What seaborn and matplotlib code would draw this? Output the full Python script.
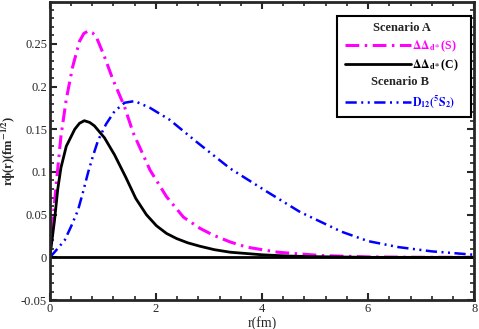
import numpy as np
import pandas as pd
import matplotlib
matplotlib.use("Agg")
import matplotlib.pyplot as plt
import seaborn as sns
from matplotlib.lines import Line2D
from matplotlib.patches import Rectangle
from matplotlib.ticker import MultipleLocator, FuncFormatter

# --- data ---
r_s = [0, 0.025, 0.06, 0.12, 0.21, 0.31, 0.43, 0.56, 0.64, 0.72, 0.80, 0.87, 1.03, 1.19, 1.26, 1.41,
       1.57, 1.89, 2.20, 2.52, 2.83, 3.08, 3.40, 3.71, 4.00, 4.30, 4.70, 5.15, 6.0, 7.0, 8.0]
phi_s = [0, 0.028, 0.045, 0.085, 0.142, 0.185, 0.223, 0.253, 0.262, 0.265, 0.263, 0.259, 0.235, 0.208, 0.198, 0.176,
         0.146, 0.102, 0.071, 0.047, 0.034, 0.026, 0.018, 0.012, 0.009, 0.006, 0.004, 0.002, 0.0005, 0.0, 0.0]

r_c = [0, 0.025, 0.088, 0.15, 0.21, 0.31, 0.47, 0.56, 0.65, 0.75, 0.84, 1.03, 1.22, 1.43, 1.62, 1.82,
       2.01, 2.20, 2.39, 2.60, 2.83, 3.10, 3.40, 4.0, 4.5, 5.0, 6.0, 8.0]
phi_c = [0, 0.012, 0.043, 0.080, 0.105, 0.130, 0.150, 0.157, 0.160, 0.158, 0.154, 0.140, 0.120, 0.094, 0.069, 0.050,
         0.037, 0.028, 0.022, 0.017, 0.013, 0.009, 0.006, 0.003, 0.0015, 0.0008, 0.0, 0.0]

r_d = [0, 0.088, 0.28, 0.40, 0.53, 0.62, 0.72, 0.81, 0.91, 1.06, 1.22, 1.41, 1.60, 1.89, 2.26, 2.77,
       3.40, 4.09, 4.72, 5.50, 6.0, 6.57, 7.2, 8.0]
phi_d = [0, 0.006, 0.020, 0.036, 0.055, 0.075, 0.099, 0.118, 0.137, 0.156, 0.171, 0.181, 0.183, 0.175, 0.161, 0.135,
         0.104, 0.077, 0.053, 0.030, 0.019, 0.012, 0.007, 0.003]

lab_s = r'$\mathbf{\Delta\Delta_{d*}}$(S)'
lab_c = r'$\mathbf{\Delta\Delta_{d*}}$(C)'
lab_d = r'$\mathbf{D_{12}(^{5}S_{2})}$'

sns.set_style("ticks")
plt.rcParams['font.family'] = ['Liberation Serif', 'DejaVu Serif']
plt.rcParams['mathtext.fontset'] = 'stix'

fig = plt.figure(figsize=(4.79, 3.29), dpi=100)
ax = fig.add_axes([0.104, 0.088, 0.886, 0.906])

ls_s = (0, (4.5, 1.8, 0.8, 1.8))
ls_d = (0, (4.5, 1.8, 0.8, 1.8, 0.8, 1.8))

sns.lineplot(x=r_s, y=phi_s, ax=ax, color='magenta', lw=2.2, linestyle=ls_s)
sns.lineplot(x=r_c, y=phi_c, ax=ax, color='black', lw=2.0)
sns.lineplot(x=r_d, y=phi_d, ax=ax, color='blue', lw=1.8, linestyle=ls_d)
ax.axhline(0, color='black', lw=2.0)

ax.set_xlim(0, 8)
ax.set_ylim(-0.05, 0.299)
ax.xaxis.set_major_locator(MultipleLocator(2))
ax.xaxis.set_minor_locator(MultipleLocator(0.4))
ax.yaxis.set_major_locator(MultipleLocator(0.05))
ax.yaxis.set_minor_locator(MultipleLocator(0.01))
ax.yaxis.set_major_formatter(FuncFormatter(lambda v, p: '%g' % round(v, 3)))
ax.xaxis.set_major_formatter(FuncFormatter(lambda v, p: '%g' % v))
ax.tick_params(which='both', direction='in', top=True, right=True, labelsize=9, width=1.5, pad=2)
ax.tick_params(which='major', length=5)
ax.tick_params(which='minor', length=3, width=1.2)
for sp in ax.spines.values():
    sp.set_linewidth(2)

ax.set_xlabel('r(fm)', fontsize=10, labelpad=1)
ax.set_ylabel(r'r$\mathbf{\phi}$(r)(fm$^{\mathbf{-1/2}}$)', fontsize=9, fontweight='bold', labelpad=2)

# legend box with two groups
ax.add_patch(Rectangle((0.677, 0.615), 0.316, 0.339, transform=ax.transAxes,
                       fill=True, facecolor='white', edgecolor='black', lw=1.5, zorder=5))
h_s = Line2D([], [], color='magenta', lw=2.2, linestyle=ls_s)
h_c = Line2D([], [], color='black', lw=2.0)
h_d = Line2D([], [], color='blue', lw=1.8, linestyle=ls_d)
legA = ax.legend([h_s, h_c], [lab_s, lab_c], title='Scenario A', loc='upper left',
                 bbox_to_anchor=(0.67, 0.968), frameon=False, handlelength=5.6,
                 handletextpad=0.1, labelspacing=0.35, fontsize=8.5,
                 title_fontproperties={'weight': 'bold', 'size': 9})
for t, c in zip(legA.get_texts(), ['magenta', 'black']):
    t.set_color(c)
    t.set_fontweight('bold')
legA.set_zorder(6)
ax.add_artist(legA)
legB = ax.legend([h_d], [lab_d], title='Scenario B', loc='upper left',
                 bbox_to_anchor=(0.67, 0.788), frameon=False, handlelength=5.6,
                 handletextpad=0.1, fontsize=8.5,
                 title_fontproperties={'weight': 'bold', 'size': 9})
legB.get_texts()[0].set_color('blue')
legB.set_zorder(6)

fig.savefig('out.png', dpi=100)
